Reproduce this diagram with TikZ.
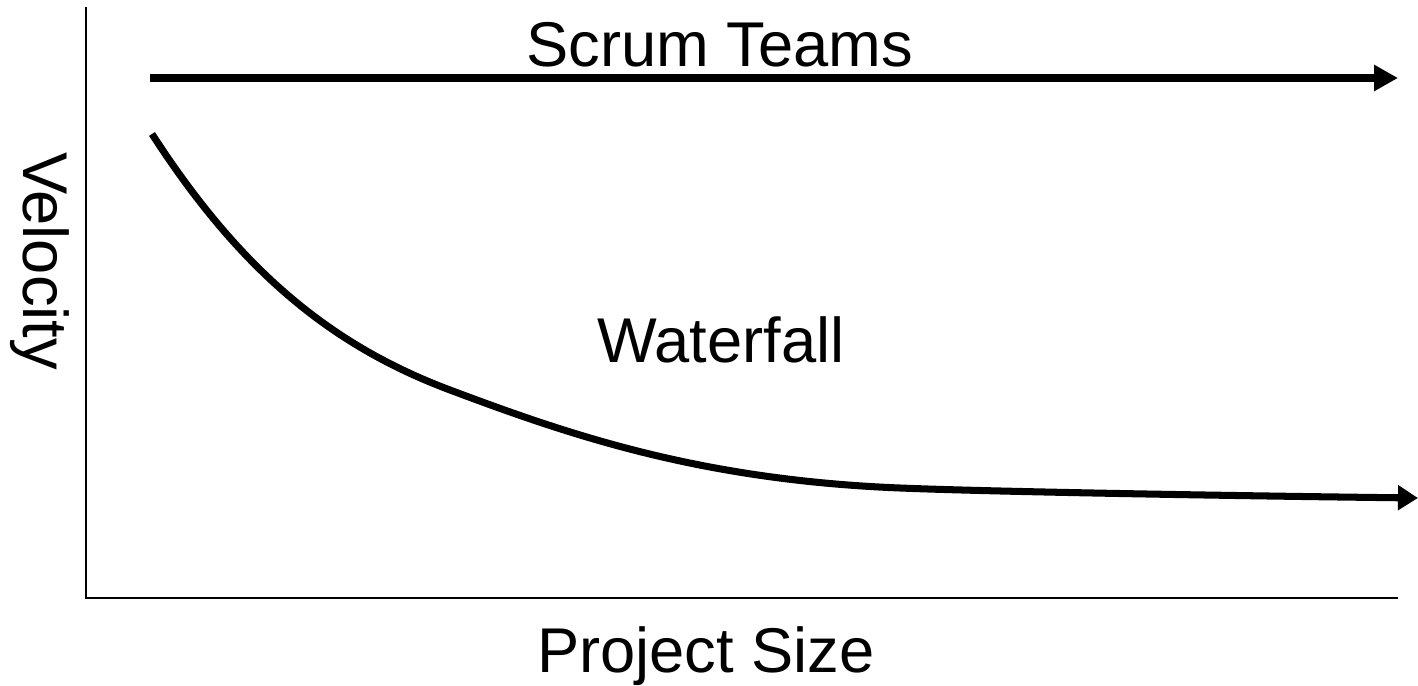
\documentclass[tikz,border=0pt]{standalone}
\usepackage{fontspec}
\setmainfont{Liberation Sans}
\usetikzlibrary{arrows.meta, positioning}

\begin{document}
\begin{tikzpicture}[
    x=0.02cm, y=-0.02cm,
    label/.style={font=\fontsize{36}{43}\selectfont, inner sep=0pt, anchor=base},
    axis/.style={line width=1.7pt},
    arrow/.style={line width=4pt, -{Triangle[length=0.48cm, width=0.5cm]}}
]
\useasboundingbox (0,0) rectangle (1418,686);

% Coordinates
\coordinate (origin) at (86,598);
\coordinate (ytop) at (86,7);
\coordinate (xend) at (1398,598);
\coordinate (scrumstart) at (150,78);
\coordinate (scrumend) at (1398,78);
\coordinate (fallstart) at (152,134);
\coordinate (fallmid) at (450,390);
\coordinate (fallflat) at (900,488);
\coordinate (fallend) at (1418,498);

% Nodes
\node[label] (scrum) at (720,67) {Scrum Teams};
\node[label] (waterfall) at (721,362) {Waterfall};
\node[label] (size) at (706,672) {Project Size};
\node[label, rotate=-90] (velocity) at (24,261) {Velocity};

% Axes
\draw[axis] (ytop) -- (origin) -- (xend);

% Arrows
\draw[arrow] (scrumstart) -- (scrumend);
\draw[line width=4pt, -{Triangle[length=0.4cm, width=0.48cm]}]
  (fallstart) .. controls (240,270) and (330,345) .. (fallmid)
  .. controls (570,435) and (700,480) .. (fallflat)
  .. controls (1000,492) and (1250,496) .. (fallend);

\end{tikzpicture}
\end{document}
